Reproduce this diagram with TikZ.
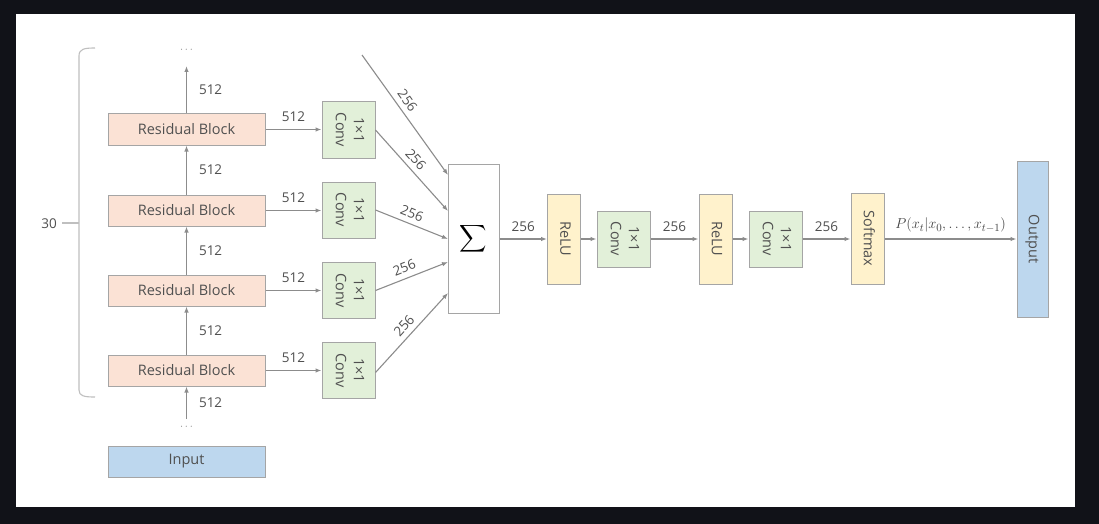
\documentclass[tikz,border=0pt]{standalone}
\usepackage{fontspec}
\usepackage{graphicx}
\setmainfont{Open Sans}
\usetikzlibrary{arrows.meta,calc}
\definecolor{bgdark}{HTML}{111218}
\definecolor{txt}{HTML}{505050}
\definecolor{boxline}{HTML}{A5A5A5}
\definecolor{arrline}{HTML}{8C8C8C}
\definecolor{resfill}{HTML}{FBE2D5}
\definecolor{convfill}{HTML}{E2F0D9}
\definecolor{yelfill}{HTML}{FFF2CC}
\definecolor{bluefill}{HTML}{BDD7EE}
\definecolor{bracecol}{HTML}{BFBFBF}
\newcommand{\rottext}[1]{\rotatebox{-90}{\begin{tabular}{@{}c@{}}#1\end{tabular}}}
\begin{document}
\begin{tikzpicture}[x=1pt,y=-1pt,
  box/.style={draw=boxline, line width=1pt, inner sep=0pt, text=txt,
    font=\fontsize{14.5}{18}\selectfont},
  resbox/.style={box, fill=resfill, minimum width=157pt, minimum height=31pt},
  inbox/.style={box, fill=bluefill, minimum width=157pt, minimum height=31pt},
  convbox/.style={box, fill=convfill, minimum width=53pt, minimum height=56pt},
  yelbox/.style={box, fill=yelfill, minimum width=33pt, minimum height=90pt},
  outbox/.style={box, fill=bluefill, minimum width=31pt, minimum height=156pt},
  sumbox/.style={box, fill=white, minimum width=51pt, minimum height=149pt},
  arr/.style={draw=arrline, line width=1.1pt, -{Latex[length=6pt,width=4.5pt]}},
  lbl/.style={text=txt, font=\fontsize{13.5}{15}\selectfont, inner sep=2pt},
  dots/.style={text=txt!70, font=\fontsize{11}{12}\selectfont, inner sep=0pt},
  bracepath/.style={draw=bracecol, line width=1.1pt}
]
\fill[bgdark] (0,0) rectangle (1099,524);
\fill[white] (16,14) rectangle (1075,507);
\useasboundingbox (0,0) rectangle (1099,524);

% residual column
\node[resbox] (rb1) at (186.5,129.5) {Residual Block};
\node[resbox] (rb2) at (186.5,210.5) {Residual Block};
\node[resbox] (rb3) at (186.5,290.5) {Residual Block};
\node[resbox] (rb4) at (186.5,370.5) {Residual Block};
\node[inbox] (inp) at (186.5,461.5) {Input};
\node[dots] (dtop) at (186.5,50) {$\cdots$};
\node[dots] (dbot) at (186.5,427) {$\cdots$};
\coordinate (ctop) at (186.5,66);
\coordinate (cbot) at (186.5,419);

\draw[arr] (rb1.north) -- node[lbl, right=10pt] {512} (ctop);
\draw[arr] (rb2.north) -- node[lbl, right=10pt] {512} (rb1.south);
\draw[arr] (rb3.north) -- node[lbl, right=10pt] {512} (rb2.south);
\draw[arr] (rb4.north) -- node[lbl, right=10pt] {512} (rb3.south);
\draw[arr] (cbot) -- node[lbl, right=10pt] {512} (rb4.south);

% conv 1x1 column
\node[convbox] (c1) at (348.5,130) {\rottext{1×1\\Conv}};
\node[convbox] (c2) at (348.5,210) {\rottext{1×1\\Conv}};
\node[convbox] (c3) at (348.5,290.5) {\rottext{1×1\\Conv}};
\node[convbox] (c4) at (348.5,370.5) {\rottext{1×1\\Conv}};

\draw[arr] (rb1.east) -- node[lbl, above=5pt] {512} (c1.west |- rb1.east);
\draw[arr] (rb2.east) -- node[lbl, above=5pt] {512} (c2.west |- rb2.east);
\draw[arr] (rb3.east) -- node[lbl, above=5pt] {512} (c3.west |- rb3.east);
\draw[arr] (rb4.east) -- node[lbl, above=5pt] {512} (c4.west |- rb4.east);

% sum
\node[sumbox] (sum) at (473.5,238.5) {\color{black}\raisebox{-3pt}{\scalebox{1.9}{$\displaystyle\sum$}}};
\coordinate (tin) at (362,55);
\coordinate (s1) at (448,175);
\coordinate (s2) at (448,211);
\coordinate (s3) at (448,239);
\coordinate (s4) at (448,262);
\coordinate (s5) at (448,293);
\draw[arr] (tin) -- node[lbl, sloped, pos=0.43, above=3pt] {256} (s1);
\draw[arr] (c1.east) -- node[lbl, sloped, pos=0.45, above=3pt] {256} (s2);
\draw[arr] (c2.east) -- node[lbl, sloped, pos=0.45, above=3pt] {256} (s3);
\draw[arr] (c3.east) -- node[lbl, sloped, pos=0.45, above=3pt] {256} (s4);
\draw[arr] ([yshift=-2pt]c4.east) -- node[lbl, sloped, pos=0.5, above=3pt] {256} (s5);

% right chain
\node[yelbox] (relu1) at (564,239) {\rottext{ReLU}};
\node[convbox] (c5) at (623.5,239) {\rottext{1×1\\Conv}};
\node[yelbox] (relu2) at (715.5,239) {\rottext{ReLU}};
\node[convbox] (c6) at (775.5,239) {\rottext{1×1\\Conv}};
\node[yelbox, minimum height=91pt] (soft) at (867.5,238.5) {\rottext{Softmax}};
\node[outbox] (out) at (1032.5,239) {\rottext{Output}};

\draw[arr] (sum.east |- relu1.west) -- node[lbl, above=5pt] {256} (relu1.west);
\draw[arr] (relu1.east) -- (c5.west);
\draw[arr] (c5.east) -- node[lbl, above=5pt] {256} (relu2.west);
\draw[arr] (relu2.east) -- (c6.west);
\draw[arr] (c6.east) -- node[lbl, above=5pt] {256} (soft.west |- c6.east);
\draw[arr] (soft.east |- c6.east) -- node[lbl, above=4pt, text=black!75, font=\fontsize{15}{17}\selectfont] {$P(x_t|x_0,\ldots,x_{t-1})$} (out.west |- c6.east);

% bracket
\draw[bracepath] (95,48) .. controls (84,48) and (79,49) .. (79,56) -- (79,390) .. controls (79,396) and (84,397) .. (95,397);
\coordinate (bmid) at (79,223);
\coordinate (btick) at (62,223);
\draw[bracepath] (bmid) -- (btick);
\node[lbl, anchor=east, inner sep=0pt] (thirty) at (57,224) {30};
\end{tikzpicture}
\end{document}
